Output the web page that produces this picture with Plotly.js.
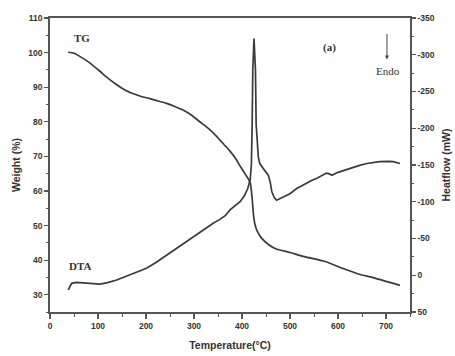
<!DOCTYPE html>
<html>
<head>
<meta charset="utf-8">
<script src="https://cdn.plot.ly/plotly-3.0.1.min.js"></script>
<style>html,body{margin:0;padding:0;background:#fff;}#chart{width:455px;height:356px;}</style>
</head>
<body>
<div id="chart"></div>
<script>
// TG curve: temperature (°C) and weight (%)
const tgTemp = [38,50,62,80,104,120,139,156,174,190,208,225,243,260,278,295,312,330,347,362,375,387,396,407,417,421,424,427,432,440,455,470,500,530,573,610,642,677,729];
const tgWeight = [100.1,99.8,98.9,97.3,94.6,92.7,90.7,89.2,88.1,87.3,86.7,86.0,85.3,84.4,83.3,81.9,80.0,78.1,75.8,73.5,71.5,69.3,67.2,64.8,62.4,58.0,53.0,50.3,48.3,46.5,44.5,43.3,42.2,41.0,39.6,37.6,36.0,34.8,32.7];

// DTA curve: temperature (°C) and heat flow (mW)
const dtaTemp = [38,41,45,55,70,83,104,120,139,156,174,190,201,220,243,260,278,295,312,326,340,354,365,375,387,396,405,412,417,419.5,421,422.5,425,428,429.5,430,432,434,437,441,448,455,459,462,467,472,485,500,514,530,545,556,568,576,582,587,600,625,645,660,687,705,715,729];
const dtaHeat = [20,15,11,9.6,10.5,11,12,10,6.5,2,-2.7,-6.5,-9.5,-17,-27.5,-35,-43.5,-51,-59,-65,-70.7,-76,-81,-89,-95,-100,-108,-118,-130,-150,-197,-280,-322,-280,-205,-198,-175,-161,-152,-148,-142,-136,-126,-114,-106,-102,-106,-111,-118,-124,-129,-132,-136,-139,-138,-136,-140,-145.5,-149.5,-152,-154.5,-155,-154.5,-152];

// Tick labels
const xTicks = [0,100,200,300,400,500,600,700];
const weightTicks = [30,40,50,60,70,80,90,100,110];
const heatTicks = [-350,-300,-250,-200,-150,-100,-50,0,50];
const heatTickText = ['-350','-300','-250','-200','-150','-100','-50','0','50'];

const lineColor = '#3a3a3a';
const axisColor = '#555';
const tickFont = {family: 'Liberation Sans, Arial, sans-serif', size: 8.5, color: '#333', weight: 'bold'};
const titleFont = {family: 'Liberation Sans, Arial, sans-serif', size: 10.5, color: '#333', weight: 'bold'};
const serifFont = {family: 'Liberation Serif, Times New Roman, serif', size: 11, color: '#333'};

const traces = [
  {x: tgTemp, y: tgWeight, type: 'scatter', mode: 'lines', yaxis: 'y',
   line: {color: lineColor, width: 1.7, shape: 'spline', smoothing: 0.6}, hoverinfo: 'skip'},
  {x: dtaTemp, y: dtaHeat, type: 'scatter', mode: 'lines', yaxis: 'y2',
   line: {color: lineColor, width: 1.7, shape: 'linear'}, hoverinfo: 'skip'}
];

const layout = {
  width: 455, height: 356,
  margin: {l: 50, r: 45, t: 18, b: 44},
  paper_bgcolor: '#fff', plot_bgcolor: '#fff',
  showlegend: false,
  xaxis: {
    range: [0, 750], tickvals: xTicks, ticks: 'outside', ticklen: 5, tickwidth: 1.2, tickcolor: axisColor,
    showline: true, linecolor: axisColor, linewidth: 1.8, mirror: true,
    showgrid: false, zeroline: false, tickfont: tickFont,
    minor: {dtick: 50, tick0: 0, ticks: 'outside', ticklen: 3, tickwidth: 1, tickcolor: axisColor, showgrid: false},
    title: {text: 'Temperature(°C)', font: titleFont, standoff: 12}
  },
  yaxis: {
    range: [25, 110], tickvals: weightTicks, ticks: 'outside', ticklen: 4, tickwidth: 1.2, tickcolor: axisColor,
    showline: true, linecolor: axisColor, linewidth: 1.8,
    showgrid: false, zeroline: false, tickfont: tickFont,
    minor: {dtick: 5, tick0: 0, ticks: 'outside', ticklen: 2.5, tickwidth: 1, tickcolor: axisColor, showgrid: false},
    title: {text: 'Weight (%)', font: titleFont, standoff: 6}
  },
  yaxis2: {
    overlaying: 'y', side: 'right',
    range: [50, -350], tickvals: heatTicks, ticktext: heatTickText,
    ticks: 'outside', ticklen: 4, tickwidth: 1.2, tickcolor: axisColor,
    showline: true, linecolor: axisColor, linewidth: 1.8,
    showgrid: false, zeroline: false, tickfont: tickFont,
    minor: {dtick: 25, tick0: 0, ticks: 'outside', ticklen: 2.5, tickwidth: 1, tickcolor: axisColor, showgrid: false},
    title: {text: 'Heatflow (mW)', font: titleFont, standoff: 9}
  },
  annotations: [
    {x: 67, y: 104.2, xref: 'x', yref: 'y', text: '<b>TG</b>', showarrow: false, font: serifFont},
    {x: 63, y: 38.3, xref: 'x', yref: 'y', text: '<b>DTA</b>', showarrow: false, font: serifFont},
    {x: 583, y: 101.4, xref: 'x', yref: 'y', text: '<b>(a)</b>', showarrow: false, font: serifFont},
    {x: 704, y: 94.7, xref: 'x', yref: 'y', text: 'Endo', showarrow: false, font: serifFont},
    {x: 702, y: 98.0, xref: 'x', yref: 'y', ax: 702, ay: 105.8, axref: 'x', ayref: 'y',
     text: '', showarrow: true, arrowhead: 2, arrowsize: 0.8, arrowwidth: 1, arrowcolor: '#444'}
  ]
};

Plotly.newPlot('chart', traces, layout, {displayModeBar: false, staticPlot: true});
</script>
</body>
</html>
